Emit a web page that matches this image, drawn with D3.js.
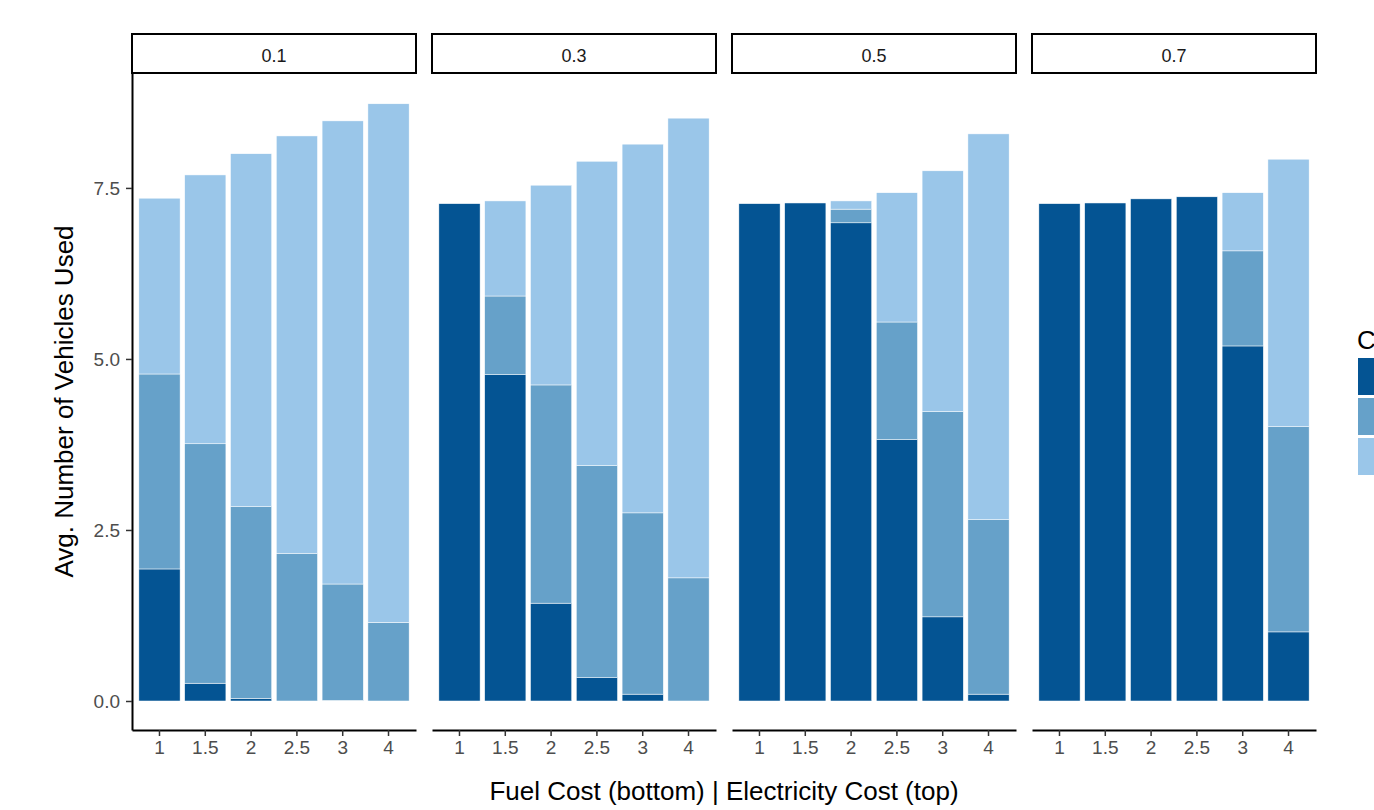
<!DOCTYPE html>
<html>
<head>
<meta charset="utf-8">
<script src="https://cdn.jsdelivr.net/npm/d3@7"></script>
<style>
  body { margin: 0; background: #fff; }
  svg { font-family: "Liberation Sans", Arial, sans-serif; display: block; }
</style>
</head>
<body>
<div id="chart"></div>
<script>
// electricity cost facets and fuel cost categories
var facets = ['0.1', '0.3', '0.5', '0.7'];
var fuelCost = ['1', '1.5', '2', '2.5', '3', '4'];
var yTicks = [0, 2.5, 5, 7.5];

// segment heights per facet (bottom -> top of stack)
var darkVals = [
    [1.93, 0.26, 0.04, 0, 0.01, 0],
    [7.27, 4.77, 1.43, 0.34, 0.10, 0],
    [7.27, 7.28, 6.99, 3.82, 1.23, 0.10],
    [7.27, 7.28, 7.34, 7.37, 5.19, 1.01]
];
var midVals = [
    [2.85, 3.50, 2.80, 2.16, 1.70, 1.15],
    [0, 1.15, 3.19, 3.10, 2.65, 1.80],
    [0, 0, 0.20, 1.72, 3.00, 2.55],
    [0, 0, 0, 0, 1.39, 3.00]
];
var lightVals = [
    [2.57, 3.93, 5.16, 6.10, 6.77, 7.58],
    [0, 1.39, 2.92, 4.45, 5.39, 6.72],
    [0, 0, 0.12, 1.89, 3.52, 5.64],
    [0, 0, 0, 0, 0.85, 3.91]
];
var seriesKeys = ['dark', 'mid', 'light'];
var colors = ['#045493', '#66a1c9', '#9ac6e9'];

var W = 1374, H = 810;
var svg = d3.select('#chart').append('svg')
    .attr('width', W)
    .attr('height', H);

svg.append('rect').attr('width', W).attr('height', H).attr('fill', '#fff');

var panelTop = 73, panelBottom = 730;
var panelW = 284, panelGap = 16, panelLeft = 132;
var stripTop = 34;
var tickFont = '19px';

var y = d3.scaleLinear()
    .domain([-0.424, 9.18])
    .range([panelBottom, panelTop]);

var color = d3.scaleOrdinal().domain(seriesKeys).range(colors);
var stack = d3.stack().keys(seriesKeys);

function styleAxis(a) {
    a.attr('font-size', tickFont)
     .attr('font-family', '"Liberation Sans", Arial, sans-serif');
    a.select('.domain').attr('stroke', '#000').attr('stroke-width', 2);
    a.selectAll('.tick line').attr('stroke', '#333').attr('stroke-width', 1.5);
    a.selectAll('.tick text').attr('fill', '#4d4d4d');
}

facets.forEach(function(f, fi) {
    var x0 = panelLeft + fi * (panelW + panelGap);
    var g = svg.append('g')
        .attr('class', 'panel')
        .attr('transform', 'translate(' + x0 + ',0)');

    var x = d3.scaleBand()
        .domain(fuelCost)
        .range([0, panelW])
        .paddingInner(0.1)
        .paddingOuter(0.15);

    var rows = fuelCost.map(function(c, i) {
        return { cost: c, dark: darkVals[fi][i], mid: midVals[fi][i], light: lightVals[fi][i] };
    });

    var layers = stack(rows);

    g.selectAll('.layer')
        .data(layers)
        .enter().append('g')
        .attr('class', 'layer')
        .attr('fill', function(d) { return color(d.key); })
      .selectAll('rect')
        .data(function(d) { return d.filter(function(s) { return s[1] - s[0] > 0; }); })
        .enter().append('rect')
        .attr('x', function(d) { return x(d.data.cost); })
        .attr('width', x.bandwidth())
        .attr('y', function(d) { return y(d[1]); })
        .attr('height', function(d) { return y(d[0]) - y(d[1]); })
        .attr('stroke', '#fff')
        .attr('stroke-width', 0.5);

    // strip
    g.append('rect')
        .attr('x', 0).attr('y', stripTop)
        .attr('width', panelW).attr('height', panelTop - stripTop)
        .attr('fill', '#fff')
        .attr('stroke', '#000')
        .attr('stroke-width', 2);
    g.append('text')
        .attr('x', panelW / 2)
        .attr('y', 62)
        .attr('text-anchor', 'middle')
        .attr('font-size', '18px')
        .attr('fill', '#1a1a1a')
        .text(f);

    // x axis
    var ax = g.append('g')
        .attr('class', 'axis-x')
        .attr('transform', 'translate(0,' + panelBottom + ')')
        .call(d3.axisBottom(x).tickSize(6).tickPadding(5).tickSizeOuter(0));
    styleAxis(ax);

    if (fi === 0) {
        var ay = g.append('g')
            .attr('class', 'axis-y')
            .call(d3.axisLeft(y).tickValues(yTicks).tickSize(6).tickPadding(6)
                .tickSizeOuter(0)
                .tickFormat(d3.format('.1f')));
        styleAxis(ay);
    }
});

// axis titles
svg.append('text')
    .attr('transform', 'translate(73,' + ((panelTop + panelBottom) / 2) + ') rotate(-90)')
    .attr('text-anchor', 'middle')
    .attr('font-size', '26px')
    .attr('fill', '#000')
    .text('Avg. Number of Vehicles Used');

svg.append('text')
    .attr('x', (panelLeft + panelLeft + 4 * panelW + 3 * panelGap) / 2)
    .attr('y', 800)
    .attr('text-anchor', 'middle')
    .attr('font-size', '26px')
    .attr('fill', '#000')
    .text('Fuel Cost (bottom) | Electricity Cost (top)');

// legend (cut off at right edge)
var legend = svg.append('g').attr('transform', 'translate(1357,0)');
legend.append('text')
    .attr('x', 0).attr('y', 349)
    .attr('font-size', '26px')
    .attr('fill', '#000')
    .text('C');
legend.selectAll('.key')
    .data(seriesKeys)
    .enter().append('rect')
    .attr('class', 'key')
    .attr('x', 1)
    .attr('y', function(d, i) { return 358 + i * 40; })
    .attr('width', 40)
    .attr('height', 37)
    .attr('fill', function(d) { return color(d); });
</script>
</body>
</html>
